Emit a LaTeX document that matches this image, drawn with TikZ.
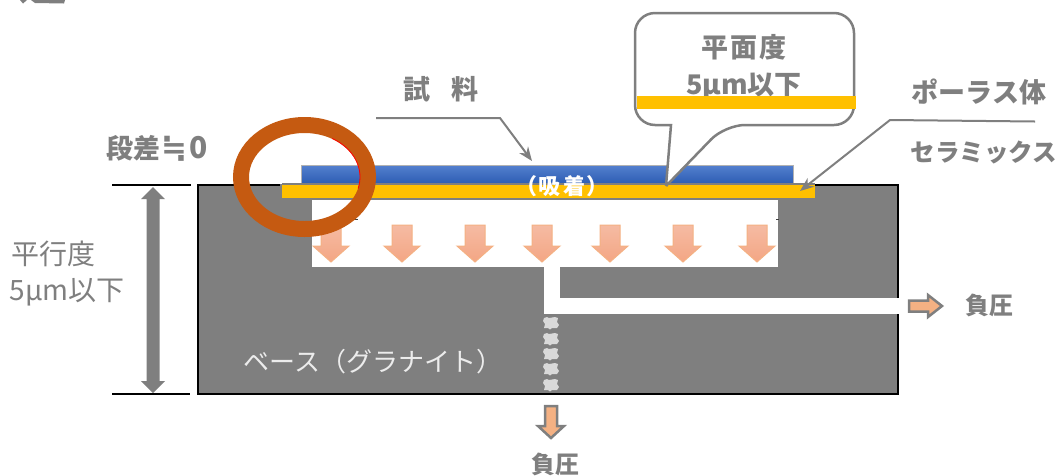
\documentclass[tikz,border=0pt]{standalone}
\usepackage{fontspec}
\setmainfont{Noto Sans CJK JP}
\newfontfamily\symfont{DejaVu Sans}
\usetikzlibrary{arrows.meta}
\definecolor{baseGray}{HTML}{7F7F7F}
\definecolor{porousYellow}{HTML}{FFC000}
\definecolor{ringBrown}{HTML}{C55A11}
\definecolor{flowOrange}{HTML}{F4B183}
\definecolor{flowTop}{HTML}{F5BBA3}
\definecolor{flowBot}{HTML}{F4A684}
\definecolor{sampleTop}{HTML}{5480CE}
\definecolor{sampleBot}{HTML}{2E5EB4}
\tikzset{
    label/.style={text=baseGray, font=\fontsize{27}{32}\selectfont\bfseries, inner sep=0pt},
    thinlabel/.style={text=baseGray, font=\fontsize{28}{33}\selectfont, inner sep=0pt},
    leader/.style={draw=baseGray, line width=2pt},
    flow/.style={top color=flowTop, bottom color=flowBot, draw=flowOrange, line width=1pt},
    outflow/.style={fill=flowOrange, draw=baseGray, line width=2.5pt, line join=miter},
    vaclabel/.style={text=baseGray, font=\fontsize{24}{28}\selectfont\bfseries, inner sep=0pt},
}
\begin{document}
\begin{tikzpicture}[x=1pt, y=-1pt]
    \useasboundingbox (0,0) rectangle (1057,475);

    % Cropped character at the top edge
    \fill[baseGray] (20,0) -- (23,3.5) -- (27,0) -- cycle;
    \fill[baseGray] (31,0) -- (35,3) -- (64,3.5) -- (65,0) -- cycle;

    % Granite base
    \fill[baseGray] (198,184) rectangle (898,393);
    \draw[black, line width=2pt] (280,185) -- (198,185) -- (198,394) -- (898,394) -- (898,314);
    \draw[black, line width=2pt] (898,298) -- (898,185) -- (815,185);
    \fill[white] (312,200) rectangle (778,267);
    \fill[white] (544,267) rectangle (560,298);
    \fill[white] (544,298) rectangle (900,314);
    \draw[baseGray!50!black, line width=1pt] (340,219.5) -- (358,219.5);
    \draw[baseGray!50!black, line width=1pt] (776,219.5) -- (779,219.5);

    % Sealed part of the vertical channel
    \foreach \y in {323,339,354,369,385} {
        \fill[gray!30] (544,\y-5) -- (547,\y-6) -- (549,\y-5) -- (555,\y-6) -- (558,\y-5) -- (557,\y-1) -- (559,\y+2) -- (557,\y+5)
            -- (552,\y+5) -- (550,\y+6.5) -- (548,\y+5) -- (544,\y+5) -- (545,\y+1) -- (543,\y-2) -- cycle;
    }

    % Sample and porous ceramic
    \shade[top color=sampleTop, bottom color=sampleBot] (301,165) rectangle (793,183);
    \draw[gray!60, line width=0.7pt] (301,183) -- (301,165) -- (793,165) -- (793,183);
    \fill[baseGray] (282,183) rectangle (815,185);
    \fill[porousYellow] (282,185) rectangle (815,198);
    \fill[baseGray] (312,198) rectangle (778,200);
    \node (adsorb) [text=white, font=\fontsize{22}{26}\selectfont\bfseries, inner sep=0pt] at (562,186) {（\hspace{0.05em}吸\hspace{0.12em}着\hspace{0.05em}）};

    % Suction arrows in the cavity
    \foreach \x in {331,402,475,542,610,683,757} {
        \path[flow] (\x-10,225) -- (\x+10,225) -- (\x+10,246) -- (\x+18,246) -- (\x,262) -- (\x-18,246) -- (\x-10,246) -- cycle;
    }

    % Outgoing arrows
    \path[outflow] (909,300.5) -- (928,300.5) -- (928,295) -- (942,306) -- (928,317) -- (928,311.5) -- (909,311.5) -- cycle;
    \path[outflow] (545,406) -- (557,406) -- (557,426) -- (564,426) -- (551,438) -- (538,426) -- (545,426) -- cycle;

    % Step marker
    \draw[black, line width=2pt] (112,185) -- (191,185);
    \draw[black, line width=2pt] (112,394) -- (190,394);
    \fill[baseGray] (153,187) -- (165,199) -- (159.5,199) -- (159.5,381) -- (165,381) -- (153,393)
        -- (141,381) -- (146.5,381) -- (146.5,199) -- (141,199) -- cycle;

    % Flatness callout
    \fill[white, rounded corners=20pt] (635,125) -- (635,13) -- (854,13) -- (854,125) -- cycle;
    \fill[white] (671,125) -- (666,186) -- (725,125) -- cycle;
    \draw[baseGray, line width=2.5pt, line join=miter, rounded corners=20pt]
        (666,186) [sharp corners] -- (671,125) [rounded corners=20pt] -- (635,125) -- (635,13) -- (854,13) -- (854,125) -- (725,125) [sharp corners] -- (666,186);
    \node (flatness) [label] at (744,47) {平\hspace{0.08em}面\hspace{0.08em}度};
    \node (flatnessval) [label] at (744,86) {5μm以下};
    \fill[porousYellow] (637,96) rectangle (856,109);

    % Ring around the step
    \draw[ringBrown, line width=16pt] (304.5,177) ellipse [x radius=63.5pt, y radius=52pt];
    \draw[red, line width=0.8pt] (304.5,177) ++(60:55.5pt and 44.5pt) arc [start angle=60, end angle=-15, x radius=55.5pt, y radius=44.5pt];

    % Labels
    \node (step) [label] at (157,148) {段差\hspace{0.05em}{\symfont\bfseries\fontsize{31}{32}\selectfont ≒}\hspace{0.05em}\fontsize{30}{32}\selectfont 0};
    \node (sample) [label] at (441,89) {試\hspace{0.75em}料};
    \node (parallel) [thinlabel] at (53,254) {平行度};
    \node (parallelval) [thinlabel] at (67,292) {5μm以下};
    \node (porous) [label] at (979,92) {ポーラス体};
    \node (ceramic) [label, font=\fontsize{24.5}{29}\selectfont\bfseries] at (984,152) {セラミックス};
    \node (base) [text=white!85!baseGray, font=\fontsize{26}{30}\selectfont, inner sep=0pt] at (373,362) {ベース（グラナイト）};
    \node (vacright) [vaclabel] at (989,305) {負圧};
    \node (vacdown) [vaclabel] at (555,464) {負圧};

    % Leader lines
    \coordinate (samplestart) at (376,118);
    \coordinate (samplebend) at (500,118);
    \coordinate (sampletip) at (532,161);
    \draw[leader, -{Stealth[length=14pt, width=11pt]}] (samplestart) -- (samplebend) -- (sampletip);
    \coordinate (porousstart) at (1035,121.5);
    \coordinate (porousbend) at (890,120);
    \coordinate (poroustip) at (800,191);
    \draw[leader, -{Stealth[length=14pt, width=11pt]}] (porousstart) -- (porousbend) -- (poroustip);
\end{tikzpicture}
\end{document}
